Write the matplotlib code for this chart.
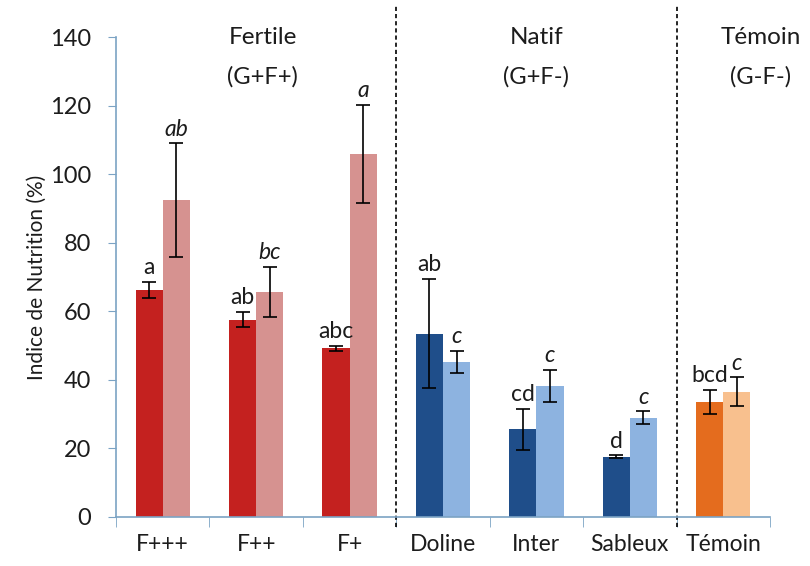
import numpy as np
import matplotlib.pyplot as plt

plt.rcParams['font.family'] = ['Lato', 'DejaVu Sans']

categories = ['F+++', 'F++', 'F+', 'Doline', 'Inter', 'Sableux', 'Témoin']
dark_vals = [66.2, 57.6, 49.2, 53.5, 25.6, 17.6, 33.5]
dark_err = [2.4, 2.3, 0.7, 16.0, 6.0, 0.4, 3.6]
light_vals = [92.5, 65.7, 106.0, 45.3, 38.2, 29.0, 36.5]
light_err = [16.6, 7.3, 14.3, 3.2, 4.8, 1.8, 4.2]
dark_letters = ['a', 'ab', 'abc', 'ab', 'cd', 'd', 'bcd']
light_letters = ['ab', 'bc', 'a', 'c', 'c', 'c', 'c']
dark_colors = ['#c4211f', '#c4211f', '#c4211f', '#1f4e8a', '#1f4e8a', '#1f4e8a', '#e46c1e']
light_colors = ['#d69290', '#d69290', '#d69290', '#8db3e0', '#8db3e0', '#8db3e0', '#f8c08e']
groups = [('Fertile', '(G+F+)'), ('Natif', '(G+F-)'), ('Témoin', '(G-F-)')]
group_x = [1.57, 4.5, 6.9]
separators = [3, 6]

txt = '#1c1c1c'

fig = plt.figure(figsize=(8.1, 5.66), dpi=100)
ax = fig.add_axes([0.1432, 0.0866, 0.8074, 0.848])

x = np.arange(len(categories)) + 0.5
w = 0.29
ax.bar(x - w / 2, dark_vals, w, color=dark_colors)
ax.bar(x + w / 2, light_vals, w, color=light_colors)
ax.errorbar(x - w / 2, dark_vals, yerr=dark_err, fmt='none', ecolor='black',
            elinewidth=1.2, capsize=5, capthick=1.2)
ax.errorbar(x + w / 2, light_vals, yerr=light_err, fmt='none', ecolor='black',
            elinewidth=1.2, capsize=5, capthick=1.2)

for i in range(len(categories)):
    ax.text(x[i] - w / 2, dark_vals[i] + dark_err[i] + 1.0, dark_letters[i],
            ha='center', va='bottom', fontsize=16.5, color=txt)
    ax.text(x[i] + w / 2, light_vals[i] + light_err[i] + 1.0, light_letters[i],
            ha='center', va='bottom', fontsize=16.5, style='italic', color=txt)

for s in separators:
    ax.plot([s, s], [-3, 149], color='black', linestyle=(0, (2.5, 1.8)),
            linewidth=1.2, clip_on=False)

for (name, sub), gx in zip(groups, group_x):
    ax.text(gx, 140, name, ha='center', va='center', fontsize=17.5, color=txt)
    ax.text(gx, 128.5, sub, ha='center', va='center', fontsize=17, color=txt)

ax.set_xlim(0, 7)
ax.set_ylim(0, 140)
ax.set_yticks(np.arange(0, 141, 20))
ax.set_xticks(x)
ax.set_xticklabels(categories)
ax.set_xticks(np.arange(0, 8), minor=True)
ax.tick_params(axis='x', which='major', length=0, pad=12, labelsize=16.5,
               labelcolor=txt)
ax.tick_params(axis='x', which='minor', length=7, color='#7ba3c4', direction='out')
ax.tick_params(axis='y', length=6, color='#7ba3c4', labelsize=17, pad=12,
               labelcolor=txt)
ax.set_ylabel('Indice de Nutrition (%)', fontsize=15, labelpad=2, color=txt)

for side in ['top', 'right']:
    ax.spines[side].set_visible(False)
for side in ['left', 'bottom']:
    ax.spines[side].set_color('#7ba3c4')
    ax.spines[side].set_linewidth(1.2)

fig.savefig('out.png', dpi=100)
